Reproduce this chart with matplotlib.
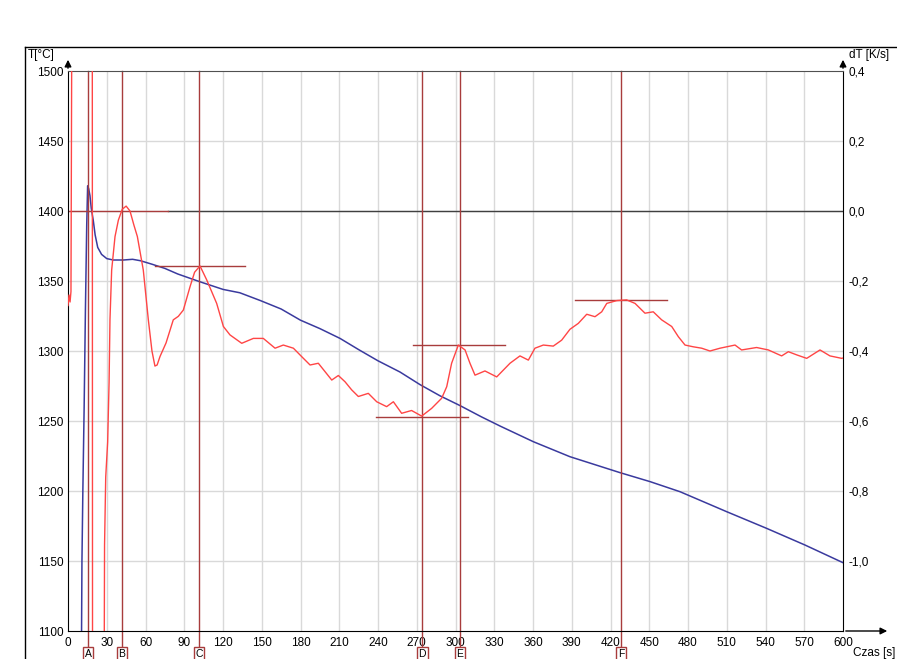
import matplotlib.pyplot as plt
from matplotlib.lines import Line2D

# temperature curve T [°C]
t_temp = [10.5, 10.8, 11.5, 12.5, 13.5, 14.5, 15.2, 16, 17, 18, 19.6, 21, 23, 26, 30, 35, 43, 50, 56,
          65, 75, 85, 102, 120, 133, 149, 165, 180, 195, 210.6, 225, 240, 257, 272.5, 288, 303.5,
          320, 334.5, 360.3, 388.6, 427.4, 450.6, 473.8, 510, 540.9, 570.6, 600]
temp = [1100, 1150, 1200, 1260, 1330, 1390, 1418, 1416, 1411, 1402, 1393, 1383, 1374, 1369, 1366, 1365,
        1365, 1365.5, 1364.5, 1362, 1359, 1355, 1349.5, 1344, 1341.6, 1336, 1330, 1322, 1316, 1309,
        1301, 1293, 1285, 1276, 1268, 1261, 1253, 1246.4, 1235.2, 1224.5, 1213.1, 1206.7, 1199.5,
        1185.2, 1173.3, 1161.4, 1148.8]

# derivative curve dT [K/s]
t_dt = [0, 0.8, 1.6, 2.3, 3.0, 18.8, 19.0, 28.0, 28.1, 28.3, 29.2, 30.7, 31.8, 32.5, 33.8, 36.4, 39,
        42, 45, 48, 51, 53.7, 58.3, 62.2, 65, 67.3, 69, 71.2, 75.9, 81.5, 85.4, 89.3, 94.5, 98,
        102.2, 107.4, 115.1, 120.3, 125.4, 134.5, 143.5, 151.2, 160.3, 166.7, 174.5, 180.9, 187.4,
        193.8, 199, 204.2, 209.3, 214.5, 219.6, 224.8, 232.5, 239, 246.7, 251.9, 258.3, 266, 273.8,
        281.5, 289.3, 293.2, 297, 302.2, 307.4, 311.2, 315.1, 322.8, 331.9, 342.2, 349.9, 356.4,
        361.5, 368, 375.7, 382.2, 388.6, 395.1, 401.6, 408, 413.2, 417.1, 424.8, 432.5, 439, 446.7,
        453.1, 459.6, 467.4, 472.5, 477.7, 484.1, 490.6, 497, 504.8, 516.4, 521.5, 533.1, 542.2,
        552.5, 557.7, 564.1, 571.9, 582.2, 589.9, 599, 600]
dtdt = [-0.27, -0.24, -0.26, -0.23, 0.6, 0.6, -1.4, -1.4, -1.2, -0.954, -0.76, -0.66, -0.49, -0.31,
        -0.169, -0.073, -0.026, 0.005, 0.014, 0.0, -0.04, -0.073, -0.169, -0.311, -0.40, -0.443,
        -0.44, -0.416, -0.377, -0.311, -0.301, -0.283, -0.216, -0.175, -0.157, -0.197, -0.264, -0.33,
        -0.354, -0.378, -0.364, -0.364, -0.392, -0.383, -0.392, -0.416, -0.44, -0.435, -0.459,
        -0.483, -0.47, -0.488, -0.511, -0.53, -0.521, -0.545, -0.559, -0.545, -0.578, -0.57, -0.586,
        -0.564, -0.535, -0.502, -0.435, -0.383, -0.397, -0.435, -0.469, -0.457, -0.474, -0.435,
        -0.414, -0.426, -0.392, -0.383, -0.386, -0.369, -0.338, -0.321, -0.295, -0.302, -0.288,
        -0.264, -0.256, -0.254, -0.264, -0.292, -0.288, -0.311, -0.33, -0.359, -0.383, -0.388,
        -0.392, -0.4, -0.392, -0.383, -0.397, -0.39, -0.397, -0.414, -0.402, -0.411, -0.421, -0.397,
        -0.414, -0.421, -0.42]

# characteristic points
mark_names = ["A", "B", "C", "D", "E", "F"]
mark_t = [15.5, 41.8, 101.4, 274.3, 303.5, 428.0]

# horizontal level markers on dT: (level, start, end)
level_dt = [0.0, -0.157, -0.588, -0.383, -0.253]
level_t0 = [0, 67.4, 238.4, 267, 392.6]
level_t1 = [77.4, 137, 309.5, 338, 463.6]

x_ticks = list(range(0, 601, 30))
y_ticks = list(range(1100, 1501, 50))
dt_ticks = [0.4, 0.2, 0.0, -0.2, -0.4, -0.6, -0.8, -1.0]

W, H = 897, 659
plt.rcParams['font.family'] = ['Liberation Sans', 'DejaVu Sans']
fig = plt.figure(figsize=(W / 100, H / 100), dpi=100)
ax = fig.add_axes([68 / W, 1 - 631 / H, 775 / W, 560 / H])
ax2 = ax.twinx()

grid_col = "#d9d9d9"
mark_col = "#a83c3c"
ax.set_xlim(0, 600)
ax.set_ylim(1100, 1500)
ax2.set_ylim(-1.2, 0.4)
for xv in x_ticks[1:-1]:
    ax.axvline(xv, color=grid_col, lw=1, zorder=0)
for yv in y_ticks[1:-1]:
    ax.axhline(yv, color=grid_col, lw=1, zorder=0)

# dT = 0 reference line (left part is covered by the B level marker)
ax2.axhline(0.0, xmin=level_t1[0] / 600, color="#404040", lw=1, zorder=1)

ax.set_xticks(x_ticks)
ax.set_yticks(y_ticks)
ax.tick_params(axis="both", length=0, labelsize=8.5)
ax.tick_params(axis="x", pad=4)
ax.tick_params(axis="y", pad=3)
ax2.set_yticks(dt_ticks)
ax2.set_yticklabels([("%.1f" % v).replace(".", ",") for v in dt_ticks])
ax2.tick_params(axis="y", length=0, labelsize=8.5, pad=4)

for s in ["left", "bottom", "right"]:
    ax2.spines[s].set_color("black")
ax2.spines["top"].set_color("#505050")
for s in ax.spines.values():
    s.set_visible(False)

ax.plot(t_temp, temp, color="#3a3a9e", lw=1.1, zorder=4)
ax2.plot(t_dt, dtdt, color="#ff4545", lw=1.0, zorder=3)

for lv, a, b in zip(level_dt, level_t0, level_t1):
    ax2.plot([a, b], [lv, lv], color=mark_col, lw=1, zorder=2)

for name, tm in zip(mark_names, mark_t):
    ax2.plot([tm, tm], [0.4, -1.243], color=mark_col, lw=1, zorder=2, clip_on=False)
    ax2.annotate(name, xy=(tm, 0), xycoords=("data", "axes fraction"), xytext=(0, -16.6),
                 textcoords="offset points", ha="center", va="center", fontsize=7.5, zorder=6,
                 bbox=dict(boxstyle="square,pad=0.15", fc="white", ec=mark_col, lw=1))

# axis arrows
arr = dict(arrowstyle="-|>", color="black", lw=1, mutation_scale=10)
ax.annotate("", xy=(0, 1 + 14 / 560), xytext=(0, 1), xycoords="axes fraction", arrowprops=arr)
ax.annotate("", xy=(1, 1 + 14 / 560), xytext=(1, 1), xycoords="axes fraction", arrowprops=arr)
ax.annotate("", xy=(1 + 47 / 775, 0), xytext=(1, 0), xycoords="axes fraction", arrowprops=arr)

fig.text(28 / W, 1 - 55 / H, "T[°C]", fontsize=8.5, va="center", ha="left")
fig.text(849 / W, 1 - 55 / H, "dT [K/s]", fontsize=8.5, va="center", ha="left")
fig.text(853 / W, 1 - 653 / H, "Czas [s]", fontsize=8.5, va="center", ha="left")

# outer frame
fig.add_artist(Line2D([25 / W, 1], [1 - 47 / H, 1 - 47 / H], color="black", lw=1))
fig.add_artist(Line2D([25 / W, 25 / W], [0, 1 - 47 / H], color="black", lw=1))

fig.savefig("out.png", dpi=100)
